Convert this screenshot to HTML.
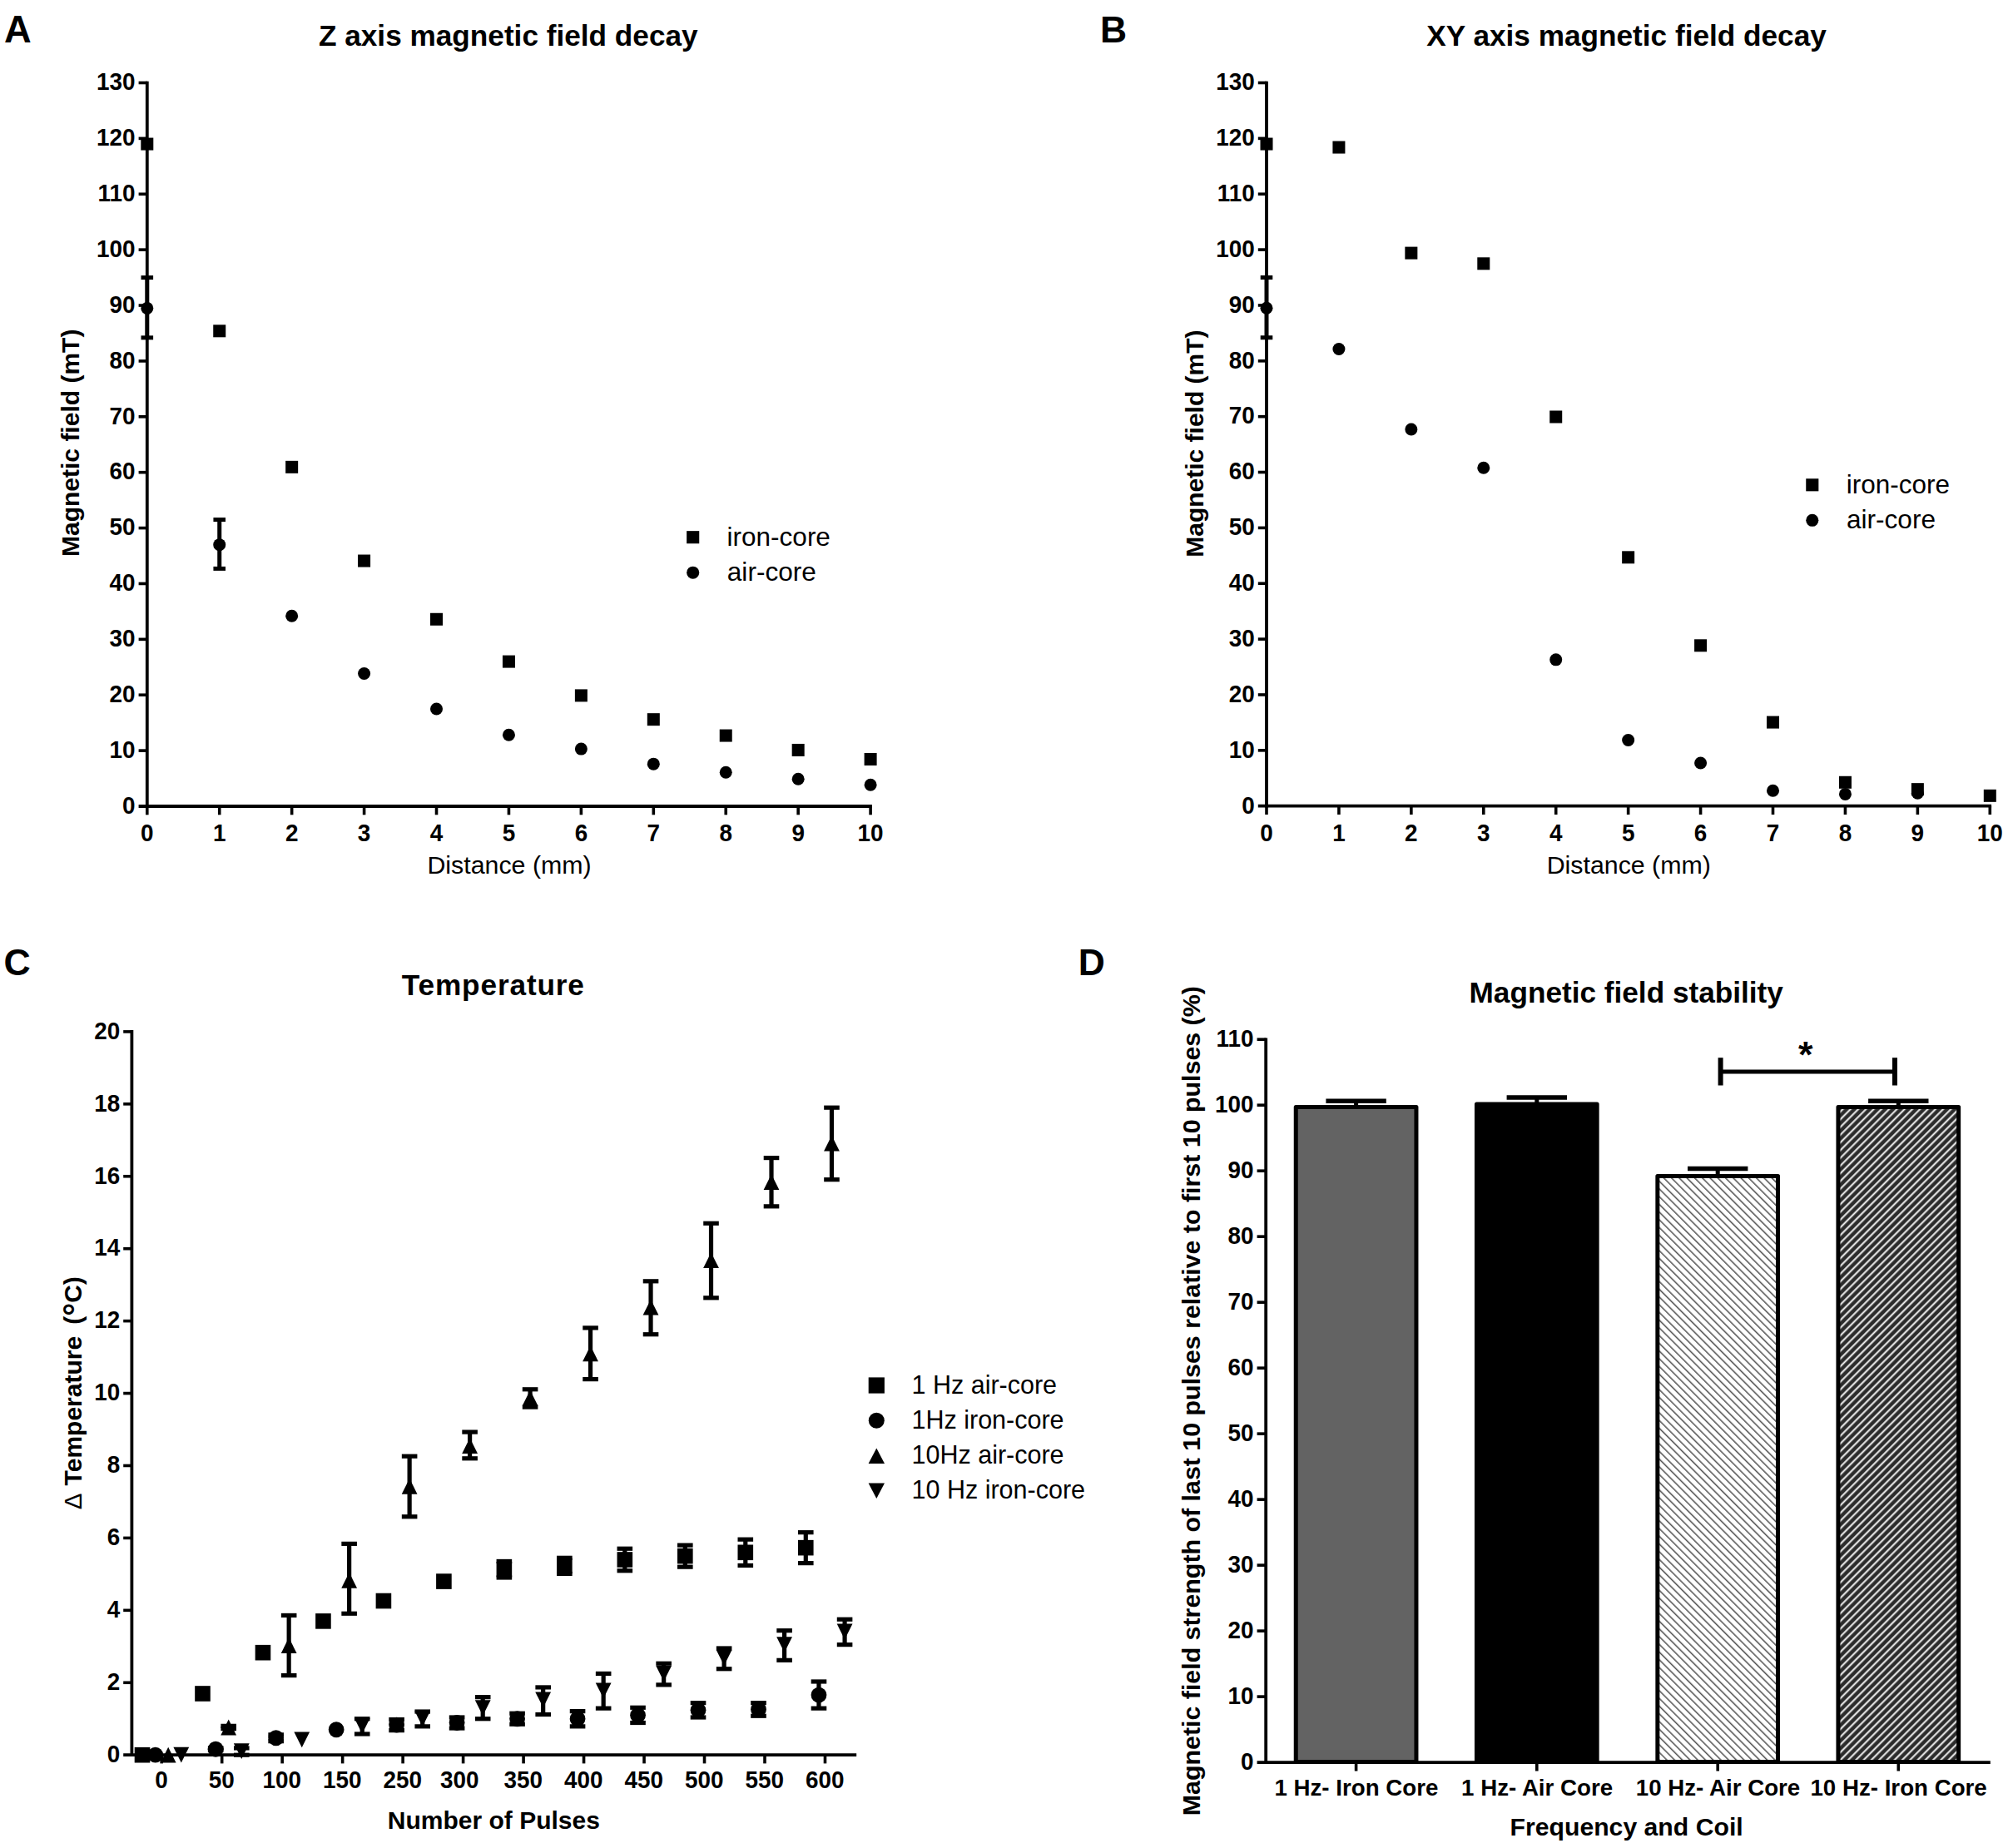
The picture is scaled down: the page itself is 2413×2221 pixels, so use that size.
<!DOCTYPE html>
<html lang="en"><head><meta charset="utf-8"><title>Figure</title>
<style>
html,body{margin:0;padding:0;background:#fff;}
body{width:2413px;height:2221px;overflow:hidden;}
svg{display:block;font-family:"Liberation Sans", sans-serif;fill:#000;}
</style></head><body>
<svg width="2413" height="2221" viewBox="0 0 2413 2221">
<rect width="2413" height="2221" fill="#fff"/>
<text x="5.00" y="50.80" font-size="45.3" font-weight="bold" text-anchor="start" >A</text>
<text x="610.80" y="54.80" font-size="35.2" font-weight="bold" text-anchor="middle" >Z axis magnetic field decay</text>
<line x1="176.80" y1="97.70" x2="176.80" y2="970.90" stroke="#000" stroke-width="3.8" />
<line x1="166.60" y1="969.00" x2="1047.90" y2="969.00" stroke="#000" stroke-width="3.8" />
<text transform="translate(162.47,977.80) scale(0.93,1)" font-size="30.0" font-weight="bold" text-anchor="end">0</text>
<line x1="166.60" y1="902.12" x2="176.80" y2="902.12" stroke="#000" stroke-width="3.6" />
<text transform="translate(162.47,910.92) scale(0.93,1)" font-size="30.0" font-weight="bold" text-anchor="end">10</text>
<line x1="166.60" y1="835.23" x2="176.80" y2="835.23" stroke="#000" stroke-width="3.6" />
<text transform="translate(162.47,844.03) scale(0.93,1)" font-size="30.0" font-weight="bold" text-anchor="end">20</text>
<line x1="166.60" y1="768.35" x2="176.80" y2="768.35" stroke="#000" stroke-width="3.6" />
<text transform="translate(162.47,777.15) scale(0.93,1)" font-size="30.0" font-weight="bold" text-anchor="end">30</text>
<line x1="166.60" y1="701.46" x2="176.80" y2="701.46" stroke="#000" stroke-width="3.6" />
<text transform="translate(162.47,710.26) scale(0.93,1)" font-size="30.0" font-weight="bold" text-anchor="end">40</text>
<line x1="166.60" y1="634.58" x2="176.80" y2="634.58" stroke="#000" stroke-width="3.6" />
<text transform="translate(162.47,643.38) scale(0.93,1)" font-size="30.0" font-weight="bold" text-anchor="end">50</text>
<line x1="166.60" y1="567.69" x2="176.80" y2="567.69" stroke="#000" stroke-width="3.6" />
<text transform="translate(162.47,576.49) scale(0.93,1)" font-size="30.0" font-weight="bold" text-anchor="end">60</text>
<line x1="166.60" y1="500.81" x2="176.80" y2="500.81" stroke="#000" stroke-width="3.6" />
<text transform="translate(162.47,509.61) scale(0.93,1)" font-size="30.0" font-weight="bold" text-anchor="end">70</text>
<line x1="166.60" y1="433.92" x2="176.80" y2="433.92" stroke="#000" stroke-width="3.6" />
<text transform="translate(162.47,442.72) scale(0.93,1)" font-size="30.0" font-weight="bold" text-anchor="end">80</text>
<line x1="166.60" y1="367.04" x2="176.80" y2="367.04" stroke="#000" stroke-width="3.6" />
<text transform="translate(162.47,375.84) scale(0.93,1)" font-size="30.0" font-weight="bold" text-anchor="end">90</text>
<line x1="166.60" y1="300.15" x2="176.80" y2="300.15" stroke="#000" stroke-width="3.6" />
<text transform="translate(162.47,308.95) scale(0.93,1)" font-size="30.0" font-weight="bold" text-anchor="end">100</text>
<line x1="166.60" y1="233.27" x2="176.80" y2="233.27" stroke="#000" stroke-width="3.6" />
<text transform="translate(162.47,242.07) scale(0.93,1)" font-size="30.0" font-weight="bold" text-anchor="end">110</text>
<line x1="166.60" y1="166.38" x2="176.80" y2="166.38" stroke="#000" stroke-width="3.6" />
<text transform="translate(162.47,175.18) scale(0.93,1)" font-size="30.0" font-weight="bold" text-anchor="end">120</text>
<line x1="166.60" y1="99.50" x2="176.80" y2="99.50" stroke="#000" stroke-width="3.6" />
<text transform="translate(162.47,108.30) scale(0.93,1)" font-size="30.0" font-weight="bold" text-anchor="end">130</text>
<line x1="176.80" y1="969.00" x2="176.80" y2="979.30" stroke="#000" stroke-width="3.6" />
<text transform="translate(176.80,1010.80) scale(0.93,1)" font-size="30.0" font-weight="bold" text-anchor="middle">0</text>
<line x1="263.73" y1="969.00" x2="263.73" y2="979.30" stroke="#000" stroke-width="3.6" />
<text transform="translate(263.73,1010.80) scale(0.93,1)" font-size="30.0" font-weight="bold" text-anchor="middle">1</text>
<line x1="350.66" y1="969.00" x2="350.66" y2="979.30" stroke="#000" stroke-width="3.6" />
<text transform="translate(350.66,1010.80) scale(0.93,1)" font-size="30.0" font-weight="bold" text-anchor="middle">2</text>
<line x1="437.59" y1="969.00" x2="437.59" y2="979.30" stroke="#000" stroke-width="3.6" />
<text transform="translate(437.59,1010.80) scale(0.93,1)" font-size="30.0" font-weight="bold" text-anchor="middle">3</text>
<line x1="524.52" y1="969.00" x2="524.52" y2="979.30" stroke="#000" stroke-width="3.6" />
<text transform="translate(524.52,1010.80) scale(0.93,1)" font-size="30.0" font-weight="bold" text-anchor="middle">4</text>
<line x1="611.45" y1="969.00" x2="611.45" y2="979.30" stroke="#000" stroke-width="3.6" />
<text transform="translate(611.45,1010.80) scale(0.93,1)" font-size="30.0" font-weight="bold" text-anchor="middle">5</text>
<line x1="698.38" y1="969.00" x2="698.38" y2="979.30" stroke="#000" stroke-width="3.6" />
<text transform="translate(698.38,1010.80) scale(0.93,1)" font-size="30.0" font-weight="bold" text-anchor="middle">6</text>
<line x1="785.31" y1="969.00" x2="785.31" y2="979.30" stroke="#000" stroke-width="3.6" />
<text transform="translate(785.31,1010.80) scale(0.93,1)" font-size="30.0" font-weight="bold" text-anchor="middle">7</text>
<line x1="872.24" y1="969.00" x2="872.24" y2="979.30" stroke="#000" stroke-width="3.6" />
<text transform="translate(872.24,1010.80) scale(0.93,1)" font-size="30.0" font-weight="bold" text-anchor="middle">8</text>
<line x1="959.17" y1="969.00" x2="959.17" y2="979.30" stroke="#000" stroke-width="3.6" />
<text transform="translate(959.17,1010.80) scale(0.93,1)" font-size="30.0" font-weight="bold" text-anchor="middle">9</text>
<line x1="1046.10" y1="969.00" x2="1046.10" y2="979.30" stroke="#000" stroke-width="3.6" />
<text transform="translate(1046.10,1010.80) scale(0.93,1)" font-size="30.0" font-weight="bold" text-anchor="middle">10</text>
<text x="612.05" y="1050.10" font-size="30.35" font-weight="normal" text-anchor="middle" >Distance (mm)</text>
<text x="0" y="0" transform="translate(95.00,532.30) rotate(-90)" font-size="30" font-weight="bold" text-anchor="middle" >Magnetic field (mT)</text>
<line x1="176.80" y1="333.60" x2="176.80" y2="405.83" stroke="#000" stroke-width="5.0" />
<line x1="169.50" y1="333.60" x2="184.10" y2="333.60" stroke="#000" stroke-width="5.0" />
<line x1="169.50" y1="405.83" x2="184.10" y2="405.83" stroke="#000" stroke-width="5.0" />
<line x1="263.73" y1="624.54" x2="263.73" y2="683.40" stroke="#000" stroke-width="5.0" />
<line x1="256.43" y1="624.54" x2="271.03" y2="624.54" stroke="#000" stroke-width="5.0" />
<line x1="256.43" y1="683.40" x2="271.03" y2="683.40" stroke="#000" stroke-width="5.0" />
<rect x="169.30" y="165.57" width="15.00" height="15.00"/>
<rect x="256.23" y="390.31" width="15.00" height="15.00"/>
<rect x="343.16" y="553.84" width="15.00" height="15.00"/>
<rect x="430.09" y="666.54" width="15.00" height="15.00"/>
<rect x="517.02" y="736.77" width="15.00" height="15.00"/>
<rect x="603.95" y="787.60" width="15.00" height="15.00"/>
<rect x="690.88" y="828.40" width="15.00" height="15.00"/>
<rect x="777.81" y="857.16" width="15.00" height="15.00"/>
<rect x="864.74" y="876.56" width="15.00" height="15.00"/>
<rect x="951.67" y="893.95" width="15.00" height="15.00"/>
<rect x="1038.60" y="904.98" width="15.00" height="15.00"/>
<circle cx="176.80" cy="370.38" r="7.50"/>
<circle cx="263.73" cy="654.64" r="7.50"/>
<circle cx="350.66" cy="740.25" r="7.50"/>
<circle cx="437.59" cy="809.48" r="7.50"/>
<circle cx="524.52" cy="851.95" r="7.50"/>
<circle cx="611.45" cy="883.19" r="7.50"/>
<circle cx="698.38" cy="900.11" r="7.50"/>
<circle cx="785.31" cy="918.17" r="7.50"/>
<circle cx="872.24" cy="928.20" r="7.50"/>
<circle cx="959.17" cy="936.23" r="7.50"/>
<circle cx="1046.10" cy="943.25" r="7.50"/>
<rect x="825.15" y="638.15" width="15.10" height="15.10"/>
<circle cx="832.70" cy="688.20" r="7.55"/>
<text x="873.60" y="655.90" font-size="31.5" font-weight="normal" text-anchor="start" >iron-core</text>
<text x="873.80" y="698.30" font-size="31.6" font-weight="normal" text-anchor="start" >air-core</text>
<text x="1321.90" y="50.80" font-size="44.5" font-weight="bold" text-anchor="start" >B</text>
<text x="1954.60" y="54.80" font-size="35.2" font-weight="bold" text-anchor="middle" >XY axis magnetic field decay</text>
<line x1="1522.00" y1="97.70" x2="1522.00" y2="970.60" stroke="#000" stroke-width="3.8" />
<line x1="1511.80" y1="968.70" x2="2393.10" y2="968.70" stroke="#000" stroke-width="3.8" />
<text transform="translate(1507.67,977.50) scale(0.93,1)" font-size="30.0" font-weight="bold" text-anchor="end">0</text>
<line x1="1511.80" y1="901.84" x2="1522.00" y2="901.84" stroke="#000" stroke-width="3.6" />
<text transform="translate(1507.67,910.64) scale(0.93,1)" font-size="30.0" font-weight="bold" text-anchor="end">10</text>
<line x1="1511.80" y1="834.98" x2="1522.00" y2="834.98" stroke="#000" stroke-width="3.6" />
<text transform="translate(1507.67,843.78) scale(0.93,1)" font-size="30.0" font-weight="bold" text-anchor="end">20</text>
<line x1="1511.80" y1="768.12" x2="1522.00" y2="768.12" stroke="#000" stroke-width="3.6" />
<text transform="translate(1507.67,776.92) scale(0.93,1)" font-size="30.0" font-weight="bold" text-anchor="end">30</text>
<line x1="1511.80" y1="701.25" x2="1522.00" y2="701.25" stroke="#000" stroke-width="3.6" />
<text transform="translate(1507.67,710.05) scale(0.93,1)" font-size="30.0" font-weight="bold" text-anchor="end">40</text>
<line x1="1511.80" y1="634.39" x2="1522.00" y2="634.39" stroke="#000" stroke-width="3.6" />
<text transform="translate(1507.67,643.19) scale(0.93,1)" font-size="30.0" font-weight="bold" text-anchor="end">50</text>
<line x1="1511.80" y1="567.53" x2="1522.00" y2="567.53" stroke="#000" stroke-width="3.6" />
<text transform="translate(1507.67,576.33) scale(0.93,1)" font-size="30.0" font-weight="bold" text-anchor="end">60</text>
<line x1="1511.80" y1="500.67" x2="1522.00" y2="500.67" stroke="#000" stroke-width="3.6" />
<text transform="translate(1507.67,509.47) scale(0.93,1)" font-size="30.0" font-weight="bold" text-anchor="end">70</text>
<line x1="1511.80" y1="433.81" x2="1522.00" y2="433.81" stroke="#000" stroke-width="3.6" />
<text transform="translate(1507.67,442.61) scale(0.93,1)" font-size="30.0" font-weight="bold" text-anchor="end">80</text>
<line x1="1511.80" y1="366.95" x2="1522.00" y2="366.95" stroke="#000" stroke-width="3.6" />
<text transform="translate(1507.67,375.75) scale(0.93,1)" font-size="30.0" font-weight="bold" text-anchor="end">90</text>
<line x1="1511.80" y1="300.08" x2="1522.00" y2="300.08" stroke="#000" stroke-width="3.6" />
<text transform="translate(1507.67,308.88) scale(0.93,1)" font-size="30.0" font-weight="bold" text-anchor="end">100</text>
<line x1="1511.80" y1="233.22" x2="1522.00" y2="233.22" stroke="#000" stroke-width="3.6" />
<text transform="translate(1507.67,242.02) scale(0.93,1)" font-size="30.0" font-weight="bold" text-anchor="end">110</text>
<line x1="1511.80" y1="166.36" x2="1522.00" y2="166.36" stroke="#000" stroke-width="3.6" />
<text transform="translate(1507.67,175.16) scale(0.93,1)" font-size="30.0" font-weight="bold" text-anchor="end">120</text>
<line x1="1511.80" y1="99.50" x2="1522.00" y2="99.50" stroke="#000" stroke-width="3.6" />
<text transform="translate(1507.67,108.30) scale(0.93,1)" font-size="30.0" font-weight="bold" text-anchor="end">130</text>
<line x1="1522.00" y1="968.70" x2="1522.00" y2="979.00" stroke="#000" stroke-width="3.6" />
<text transform="translate(1522.00,1010.80) scale(0.93,1)" font-size="30.0" font-weight="bold" text-anchor="middle">0</text>
<line x1="1608.93" y1="968.70" x2="1608.93" y2="979.00" stroke="#000" stroke-width="3.6" />
<text transform="translate(1608.93,1010.80) scale(0.93,1)" font-size="30.0" font-weight="bold" text-anchor="middle">1</text>
<line x1="1695.86" y1="968.70" x2="1695.86" y2="979.00" stroke="#000" stroke-width="3.6" />
<text transform="translate(1695.86,1010.80) scale(0.93,1)" font-size="30.0" font-weight="bold" text-anchor="middle">2</text>
<line x1="1782.79" y1="968.70" x2="1782.79" y2="979.00" stroke="#000" stroke-width="3.6" />
<text transform="translate(1782.79,1010.80) scale(0.93,1)" font-size="30.0" font-weight="bold" text-anchor="middle">3</text>
<line x1="1869.72" y1="968.70" x2="1869.72" y2="979.00" stroke="#000" stroke-width="3.6" />
<text transform="translate(1869.72,1010.80) scale(0.93,1)" font-size="30.0" font-weight="bold" text-anchor="middle">4</text>
<line x1="1956.65" y1="968.70" x2="1956.65" y2="979.00" stroke="#000" stroke-width="3.6" />
<text transform="translate(1956.65,1010.80) scale(0.93,1)" font-size="30.0" font-weight="bold" text-anchor="middle">5</text>
<line x1="2043.58" y1="968.70" x2="2043.58" y2="979.00" stroke="#000" stroke-width="3.6" />
<text transform="translate(2043.58,1010.80) scale(0.93,1)" font-size="30.0" font-weight="bold" text-anchor="middle">6</text>
<line x1="2130.51" y1="968.70" x2="2130.51" y2="979.00" stroke="#000" stroke-width="3.6" />
<text transform="translate(2130.51,1010.80) scale(0.93,1)" font-size="30.0" font-weight="bold" text-anchor="middle">7</text>
<line x1="2217.44" y1="968.70" x2="2217.44" y2="979.00" stroke="#000" stroke-width="3.6" />
<text transform="translate(2217.44,1010.80) scale(0.93,1)" font-size="30.0" font-weight="bold" text-anchor="middle">8</text>
<line x1="2304.37" y1="968.70" x2="2304.37" y2="979.00" stroke="#000" stroke-width="3.6" />
<text transform="translate(2304.37,1010.80) scale(0.93,1)" font-size="30.0" font-weight="bold" text-anchor="middle">9</text>
<line x1="2391.30" y1="968.70" x2="2391.30" y2="979.00" stroke="#000" stroke-width="3.6" />
<text transform="translate(2391.30,1010.80) scale(0.93,1)" font-size="30.0" font-weight="bold" text-anchor="middle">10</text>
<text x="1957.25" y="1050.10" font-size="30.35" font-weight="normal" text-anchor="middle" >Distance (mm)</text>
<text x="0" y="0" transform="translate(1446.30,533.10) rotate(-90)" font-size="30" font-weight="bold" text-anchor="middle" >Magnetic field (mT)</text>
<line x1="1522.00" y1="333.52" x2="1522.00" y2="405.73" stroke="#000" stroke-width="5.0" />
<line x1="1514.70" y1="333.52" x2="1529.30" y2="333.52" stroke="#000" stroke-width="5.0" />
<line x1="1514.70" y1="405.73" x2="1529.30" y2="405.73" stroke="#000" stroke-width="5.0" />
<rect x="1514.50" y="165.55" width="15.00" height="15.00"/>
<rect x="1601.43" y="169.56" width="15.00" height="15.00"/>
<rect x="1688.36" y="296.60" width="15.00" height="15.00"/>
<rect x="1775.29" y="309.30" width="15.00" height="15.00"/>
<rect x="1862.22" y="493.50" width="15.00" height="15.00"/>
<rect x="1949.15" y="662.33" width="15.00" height="15.00"/>
<rect x="2036.08" y="768.30" width="15.00" height="15.00"/>
<rect x="2123.01" y="860.57" width="15.00" height="15.00"/>
<rect x="2209.94" y="932.78" width="15.00" height="15.00"/>
<rect x="2296.87" y="941.14" width="15.00" height="15.00"/>
<rect x="2383.80" y="948.83" width="15.00" height="15.00"/>
<circle cx="1522.00" cy="370.29" r="7.50"/>
<circle cx="1608.93" cy="419.43" r="7.50"/>
<circle cx="1695.86" cy="516.05" r="7.50"/>
<circle cx="1782.79" cy="562.18" r="7.50"/>
<circle cx="1869.72" cy="792.85" r="7.50"/>
<circle cx="1956.65" cy="889.54" r="7.50"/>
<circle cx="2043.58" cy="917.02" r="7.50"/>
<circle cx="2130.51" cy="950.18" r="7.50"/>
<circle cx="2217.44" cy="954.39" r="7.50"/>
<circle cx="2304.37" cy="953.32" r="7.50"/>
<rect x="2170.25" y="575.25" width="15.10" height="15.10"/>
<circle cx="2177.80" cy="625.30" r="7.55"/>
<text x="2218.70" y="593.00" font-size="31.5" font-weight="normal" text-anchor="start" >iron-core</text>
<text x="2218.90" y="635.40" font-size="31.6" font-weight="normal" text-anchor="start" >air-core</text>
<text x="4.50" y="1171.80" font-size="44.6" font-weight="bold" text-anchor="start" >C</text>
<text x="482.80" y="1195.80" font-size="35.2" font-weight="bold" text-anchor="start" letter-spacing="0.86" >Temperature</text>
<line x1="158.40" y1="1238.10" x2="158.40" y2="2111.10" stroke="#000" stroke-width="3.8" />
<line x1="148.20" y1="2109.20" x2="1029.20" y2="2109.20" stroke="#000" stroke-width="3.8" />
<text transform="translate(144.17,2118.00) scale(0.93,1)" font-size="30.0" font-weight="bold" text-anchor="end">0</text>
<line x1="148.20" y1="2022.27" x2="158.40" y2="2022.27" stroke="#000" stroke-width="3.6" />
<text transform="translate(144.17,2031.07) scale(0.93,1)" font-size="30.0" font-weight="bold" text-anchor="end">2</text>
<line x1="148.20" y1="1935.34" x2="158.40" y2="1935.34" stroke="#000" stroke-width="3.6" />
<text transform="translate(144.17,1944.14) scale(0.93,1)" font-size="30.0" font-weight="bold" text-anchor="end">4</text>
<line x1="148.20" y1="1848.41" x2="158.40" y2="1848.41" stroke="#000" stroke-width="3.6" />
<text transform="translate(144.17,1857.21) scale(0.93,1)" font-size="30.0" font-weight="bold" text-anchor="end">6</text>
<line x1="148.20" y1="1761.48" x2="158.40" y2="1761.48" stroke="#000" stroke-width="3.6" />
<text transform="translate(144.17,1770.28) scale(0.93,1)" font-size="30.0" font-weight="bold" text-anchor="end">8</text>
<line x1="148.20" y1="1674.55" x2="158.40" y2="1674.55" stroke="#000" stroke-width="3.6" />
<text transform="translate(144.17,1683.35) scale(0.93,1)" font-size="30.0" font-weight="bold" text-anchor="end">10</text>
<line x1="148.20" y1="1587.62" x2="158.40" y2="1587.62" stroke="#000" stroke-width="3.6" />
<text transform="translate(144.17,1596.42) scale(0.93,1)" font-size="30.0" font-weight="bold" text-anchor="end">12</text>
<line x1="148.20" y1="1500.69" x2="158.40" y2="1500.69" stroke="#000" stroke-width="3.6" />
<text transform="translate(144.17,1509.49) scale(0.93,1)" font-size="30.0" font-weight="bold" text-anchor="end">14</text>
<line x1="148.20" y1="1413.76" x2="158.40" y2="1413.76" stroke="#000" stroke-width="3.6" />
<text transform="translate(144.17,1422.56) scale(0.93,1)" font-size="30.0" font-weight="bold" text-anchor="end">16</text>
<line x1="148.20" y1="1326.83" x2="158.40" y2="1326.83" stroke="#000" stroke-width="3.6" />
<text transform="translate(144.17,1335.63) scale(0.93,1)" font-size="30.0" font-weight="bold" text-anchor="end">18</text>
<line x1="148.20" y1="1239.90" x2="158.40" y2="1239.90" stroke="#000" stroke-width="3.6" />
<text transform="translate(144.17,1248.70) scale(0.93,1)" font-size="30.0" font-weight="bold" text-anchor="end">20</text>
<line x1="194.20" y1="2109.20" x2="194.20" y2="2119.40" stroke="#000" stroke-width="3.6" />
<text transform="translate(193.90,2149.40) scale(0.93,1)" font-size="30.0" font-weight="bold" text-anchor="middle">0</text>
<line x1="266.68" y1="2109.20" x2="266.68" y2="2119.40" stroke="#000" stroke-width="3.6" />
<text transform="translate(266.38,2149.40) scale(0.93,1)" font-size="30.0" font-weight="bold" text-anchor="middle">50</text>
<line x1="339.16" y1="2109.20" x2="339.16" y2="2119.40" stroke="#000" stroke-width="3.6" />
<text transform="translate(338.86,2149.40) scale(0.93,1)" font-size="30.0" font-weight="bold" text-anchor="middle">100</text>
<line x1="411.64" y1="2109.20" x2="411.64" y2="2119.40" stroke="#000" stroke-width="3.6" />
<text transform="translate(411.34,2149.40) scale(0.93,1)" font-size="30.0" font-weight="bold" text-anchor="middle">150</text>
<line x1="484.12" y1="2109.20" x2="484.12" y2="2119.40" stroke="#000" stroke-width="3.6" />
<text transform="translate(483.82,2149.40) scale(0.93,1)" font-size="30.0" font-weight="bold" text-anchor="middle">250</text>
<line x1="556.60" y1="2109.20" x2="556.60" y2="2119.40" stroke="#000" stroke-width="3.6" />
<text transform="translate(552.30,2149.40) scale(0.93,1)" font-size="30.0" font-weight="bold" text-anchor="middle">300</text>
<line x1="629.08" y1="2109.20" x2="629.08" y2="2119.40" stroke="#000" stroke-width="3.6" />
<text transform="translate(628.78,2149.40) scale(0.93,1)" font-size="30.0" font-weight="bold" text-anchor="middle">350</text>
<line x1="701.56" y1="2109.20" x2="701.56" y2="2119.40" stroke="#000" stroke-width="3.6" />
<text transform="translate(701.26,2149.40) scale(0.93,1)" font-size="30.0" font-weight="bold" text-anchor="middle">400</text>
<line x1="774.04" y1="2109.20" x2="774.04" y2="2119.40" stroke="#000" stroke-width="3.6" />
<text transform="translate(773.74,2149.40) scale(0.93,1)" font-size="30.0" font-weight="bold" text-anchor="middle">450</text>
<line x1="846.52" y1="2109.20" x2="846.52" y2="2119.40" stroke="#000" stroke-width="3.6" />
<text transform="translate(846.22,2149.40) scale(0.93,1)" font-size="30.0" font-weight="bold" text-anchor="middle">500</text>
<line x1="919.00" y1="2109.20" x2="919.00" y2="2119.40" stroke="#000" stroke-width="3.6" />
<text transform="translate(918.70,2149.40) scale(0.93,1)" font-size="30.0" font-weight="bold" text-anchor="middle">550</text>
<line x1="991.48" y1="2109.20" x2="991.48" y2="2119.40" stroke="#000" stroke-width="3.6" />
<text transform="translate(991.18,2149.40) scale(0.93,1)" font-size="30.0" font-weight="bold" text-anchor="middle">600</text>
<text x="593.40" y="2197.70" font-size="30" font-weight="bold" text-anchor="middle" >Number of Pulses</text>
<text transform="translate(97.5,1814.2) rotate(-90)" font-size="29.5" font-weight="normal" text-anchor="start">Δ</text>
<text transform="translate(97.5,1785.4) rotate(-90)" font-size="30" font-weight="bold" text-anchor="start">Temperature</text>
<text transform="translate(97.5,1591.8) rotate(-90)" font-size="30" font-weight="bold" text-anchor="start">(<tspan font-size="40" dy="7.2">°</tspan><tspan dy="-7.2">C)</tspan></text>
<rect x="161.70" y="2099.90" width="18.60" height="18.60"/>
<circle cx="186.70" cy="2109.20" r="9.40"/>
<polygon points="192.80,2118.60 211.60,2118.60 202.20,2099.80"/>
<polygon points="208.40,2099.80 227.20,2099.80 217.80,2118.60"/>
<rect x="234.18" y="2026.18" width="18.60" height="18.60"/>
<line x1="259.18" y1="2100.94" x2="259.18" y2="2103.55" stroke="#000" stroke-width="5.2" />
<line x1="249.88" y1="2100.94" x2="268.48" y2="2100.94" stroke="#000" stroke-width="5.2" />
<line x1="249.88" y1="2103.55" x2="268.48" y2="2103.55" stroke="#000" stroke-width="5.2" />
<circle cx="259.18" cy="2102.25" r="9.40"/>
<line x1="274.68" y1="2074.34" x2="274.68" y2="2077.64" stroke="#000" stroke-width="5.2" />
<line x1="265.38" y1="2074.34" x2="283.98" y2="2074.34" stroke="#000" stroke-width="5.2" />
<line x1="265.38" y1="2077.64" x2="283.98" y2="2077.64" stroke="#000" stroke-width="5.2" />
<polygon points="265.28,2085.39 284.08,2085.39 274.68,2066.59"/>
<line x1="290.28" y1="2100.94" x2="290.28" y2="2109.20" stroke="#000" stroke-width="5.2" />
<line x1="280.98" y1="2100.94" x2="299.58" y2="2100.94" stroke="#000" stroke-width="5.2" />
<line x1="280.98" y1="2109.20" x2="299.58" y2="2109.20" stroke="#000" stroke-width="5.2" />
<polygon points="280.88,2095.19 299.68,2095.19 290.28,2113.99"/>
<rect x="306.66" y="1976.89" width="18.60" height="18.60"/>
<line x1="331.66" y1="2084.86" x2="331.66" y2="2092.68" stroke="#000" stroke-width="5.2" />
<line x1="322.36" y1="2084.86" x2="340.96" y2="2084.86" stroke="#000" stroke-width="5.2" />
<line x1="322.36" y1="2092.68" x2="340.96" y2="2092.68" stroke="#000" stroke-width="5.2" />
<circle cx="331.66" cy="2088.77" r="9.40"/>
<line x1="347.16" y1="1941.43" x2="347.16" y2="2013.58" stroke="#000" stroke-width="5.2" />
<line x1="337.86" y1="1941.43" x2="356.46" y2="1941.43" stroke="#000" stroke-width="5.2" />
<line x1="337.86" y1="2013.58" x2="356.46" y2="2013.58" stroke="#000" stroke-width="5.2" />
<polygon points="337.76,1986.90 356.56,1986.90 347.16,1968.10"/>
<polygon points="353.36,2081.54 372.16,2081.54 362.76,2100.34"/>
<rect x="379.14" y="1939.08" width="18.60" height="18.60"/>
<circle cx="404.14" cy="2078.77" r="9.40"/>
<line x1="419.64" y1="1855.36" x2="419.64" y2="1939.25" stroke="#000" stroke-width="5.2" />
<line x1="410.34" y1="1855.36" x2="428.94" y2="1855.36" stroke="#000" stroke-width="5.2" />
<line x1="410.34" y1="1939.25" x2="428.94" y2="1939.25" stroke="#000" stroke-width="5.2" />
<polygon points="410.24,1908.66 429.04,1908.66 419.64,1889.86"/>
<line x1="435.24" y1="2065.73" x2="435.24" y2="2083.99" stroke="#000" stroke-width="5.2" />
<line x1="425.94" y1="2065.73" x2="444.54" y2="2065.73" stroke="#000" stroke-width="5.2" />
<line x1="425.94" y1="2083.99" x2="444.54" y2="2083.99" stroke="#000" stroke-width="5.2" />
<polygon points="425.84,2065.03 444.64,2065.03 435.24,2083.83"/>
<rect x="451.62" y="1914.74" width="18.60" height="18.60"/>
<line x1="476.62" y1="2066.60" x2="476.62" y2="2079.64" stroke="#000" stroke-width="5.2" />
<line x1="467.32" y1="2066.60" x2="485.92" y2="2066.60" stroke="#000" stroke-width="5.2" />
<line x1="467.32" y1="2079.64" x2="485.92" y2="2079.64" stroke="#000" stroke-width="5.2" />
<circle cx="476.62" cy="2073.12" r="9.40"/>
<line x1="492.12" y1="1750.18" x2="492.12" y2="1822.77" stroke="#000" stroke-width="5.2" />
<line x1="482.82" y1="1750.18" x2="501.42" y2="1750.18" stroke="#000" stroke-width="5.2" />
<line x1="482.82" y1="1822.77" x2="501.42" y2="1822.77" stroke="#000" stroke-width="5.2" />
<polygon points="482.72,1795.66 501.52,1795.66 492.12,1776.86"/>
<line x1="507.72" y1="2057.04" x2="507.72" y2="2074.86" stroke="#000" stroke-width="5.2" />
<line x1="498.42" y1="2057.04" x2="517.02" y2="2057.04" stroke="#000" stroke-width="5.2" />
<line x1="498.42" y1="2074.86" x2="517.02" y2="2074.86" stroke="#000" stroke-width="5.2" />
<polygon points="498.32,2056.33 517.12,2056.33 507.72,2075.13"/>
<rect x="524.10" y="1891.27" width="18.60" height="18.60"/>
<line x1="549.10" y1="2064.00" x2="549.10" y2="2077.04" stroke="#000" stroke-width="5.2" />
<line x1="539.80" y1="2064.00" x2="558.40" y2="2064.00" stroke="#000" stroke-width="5.2" />
<line x1="539.80" y1="2077.04" x2="558.40" y2="2077.04" stroke="#000" stroke-width="5.2" />
<circle cx="549.10" cy="2070.52" r="9.40"/>
<line x1="564.60" y1="1721.06" x2="564.60" y2="1752.79" stroke="#000" stroke-width="5.2" />
<line x1="555.30" y1="1721.06" x2="573.90" y2="1721.06" stroke="#000" stroke-width="5.2" />
<line x1="555.30" y1="1752.79" x2="573.90" y2="1752.79" stroke="#000" stroke-width="5.2" />
<polygon points="555.20,1746.97 574.00,1746.97 564.60,1728.17"/>
<line x1="580.20" y1="2039.66" x2="580.20" y2="2065.73" stroke="#000" stroke-width="5.2" />
<line x1="570.90" y1="2039.66" x2="589.50" y2="2039.66" stroke="#000" stroke-width="5.2" />
<line x1="570.90" y1="2065.73" x2="589.50" y2="2065.73" stroke="#000" stroke-width="5.2" />
<polygon points="570.80,2043.30 589.60,2043.30 580.20,2062.10"/>
<line x1="605.88" y1="1876.44" x2="605.88" y2="1896.00" stroke="#000" stroke-width="5.2" />
<line x1="596.58" y1="1876.44" x2="615.18" y2="1876.44" stroke="#000" stroke-width="5.2" />
<line x1="596.58" y1="1896.00" x2="615.18" y2="1896.00" stroke="#000" stroke-width="5.2" />
<rect x="596.58" y="1876.92" width="18.60" height="18.60"/>
<line x1="621.58" y1="2059.22" x2="621.58" y2="2072.25" stroke="#000" stroke-width="5.2" />
<line x1="612.28" y1="2059.22" x2="630.88" y2="2059.22" stroke="#000" stroke-width="5.2" />
<line x1="612.28" y1="2072.25" x2="630.88" y2="2072.25" stroke="#000" stroke-width="5.2" />
<circle cx="621.58" cy="2065.73" r="9.40"/>
<line x1="637.08" y1="1669.77" x2="637.08" y2="1691.07" stroke="#000" stroke-width="5.2" />
<line x1="627.78" y1="1669.77" x2="646.38" y2="1669.77" stroke="#000" stroke-width="5.2" />
<line x1="627.78" y1="1691.07" x2="646.38" y2="1691.07" stroke="#000" stroke-width="5.2" />
<polygon points="627.68,1689.60 646.48,1689.60 637.08,1670.80"/>
<line x1="652.68" y1="2027.92" x2="652.68" y2="2060.52" stroke="#000" stroke-width="5.2" />
<line x1="643.38" y1="2027.92" x2="661.98" y2="2027.92" stroke="#000" stroke-width="5.2" />
<line x1="643.38" y1="2060.52" x2="661.98" y2="2060.52" stroke="#000" stroke-width="5.2" />
<polygon points="643.28,2033.52 662.08,2033.52 652.68,2052.32"/>
<line x1="678.36" y1="1872.32" x2="678.36" y2="1891.44" stroke="#000" stroke-width="5.2" />
<line x1="669.06" y1="1872.32" x2="687.66" y2="1872.32" stroke="#000" stroke-width="5.2" />
<line x1="669.06" y1="1891.44" x2="687.66" y2="1891.44" stroke="#000" stroke-width="5.2" />
<rect x="669.06" y="1872.58" width="18.60" height="18.60"/>
<line x1="694.06" y1="2056.61" x2="694.06" y2="2074.86" stroke="#000" stroke-width="5.2" />
<line x1="684.76" y1="2056.61" x2="703.36" y2="2056.61" stroke="#000" stroke-width="5.2" />
<line x1="684.76" y1="2074.86" x2="703.36" y2="2074.86" stroke="#000" stroke-width="5.2" />
<circle cx="694.06" cy="2065.73" r="9.40"/>
<line x1="709.56" y1="1595.88" x2="709.56" y2="1657.60" stroke="#000" stroke-width="5.2" />
<line x1="700.26" y1="1595.88" x2="718.86" y2="1595.88" stroke="#000" stroke-width="5.2" />
<line x1="700.26" y1="1657.60" x2="718.86" y2="1657.60" stroke="#000" stroke-width="5.2" />
<polygon points="700.16,1636.14 718.96,1636.14 709.56,1617.34"/>
<line x1="725.16" y1="2011.40" x2="725.16" y2="2053.13" stroke="#000" stroke-width="5.2" />
<line x1="715.86" y1="2011.40" x2="734.46" y2="2011.40" stroke="#000" stroke-width="5.2" />
<line x1="715.86" y1="2053.13" x2="734.46" y2="2053.13" stroke="#000" stroke-width="5.2" />
<polygon points="715.76,2022.43 734.56,2022.43 725.16,2041.23"/>
<line x1="750.84" y1="1861.23" x2="750.84" y2="1887.75" stroke="#000" stroke-width="5.2" />
<line x1="741.54" y1="1861.23" x2="760.14" y2="1861.23" stroke="#000" stroke-width="5.2" />
<line x1="741.54" y1="1887.75" x2="760.14" y2="1887.75" stroke="#000" stroke-width="5.2" />
<rect x="741.54" y="1865.19" width="18.60" height="18.60"/>
<line x1="766.54" y1="2052.26" x2="766.54" y2="2070.52" stroke="#000" stroke-width="5.2" />
<line x1="757.24" y1="2052.26" x2="775.84" y2="2052.26" stroke="#000" stroke-width="5.2" />
<line x1="757.24" y1="2070.52" x2="775.84" y2="2070.52" stroke="#000" stroke-width="5.2" />
<circle cx="766.54" cy="2061.39" r="9.40"/>
<line x1="782.04" y1="1539.81" x2="782.04" y2="1603.70" stroke="#000" stroke-width="5.2" />
<line x1="772.74" y1="1539.81" x2="791.34" y2="1539.81" stroke="#000" stroke-width="5.2" />
<line x1="772.74" y1="1603.70" x2="791.34" y2="1603.70" stroke="#000" stroke-width="5.2" />
<polygon points="772.64,1580.50 791.44,1580.50 782.04,1561.70"/>
<line x1="797.64" y1="1999.23" x2="797.64" y2="2024.88" stroke="#000" stroke-width="5.2" />
<line x1="788.34" y1="1999.23" x2="806.94" y2="1999.23" stroke="#000" stroke-width="5.2" />
<line x1="788.34" y1="2024.88" x2="806.94" y2="2024.88" stroke="#000" stroke-width="5.2" />
<polygon points="788.24,2002.00 807.04,2002.00 797.64,2020.80"/>
<line x1="823.32" y1="1857.10" x2="823.32" y2="1883.18" stroke="#000" stroke-width="5.2" />
<line x1="814.02" y1="1857.10" x2="832.62" y2="1857.10" stroke="#000" stroke-width="5.2" />
<line x1="814.02" y1="1883.18" x2="832.62" y2="1883.18" stroke="#000" stroke-width="5.2" />
<rect x="814.02" y="1860.84" width="18.60" height="18.60"/>
<line x1="839.02" y1="2046.61" x2="839.02" y2="2064.00" stroke="#000" stroke-width="5.2" />
<line x1="829.72" y1="2046.61" x2="848.32" y2="2046.61" stroke="#000" stroke-width="5.2" />
<line x1="829.72" y1="2064.00" x2="848.32" y2="2064.00" stroke="#000" stroke-width="5.2" />
<circle cx="839.02" cy="2055.30" r="9.40"/>
<line x1="854.52" y1="1470.26" x2="854.52" y2="1559.80" stroke="#000" stroke-width="5.2" />
<line x1="845.22" y1="1470.26" x2="863.82" y2="1470.26" stroke="#000" stroke-width="5.2" />
<line x1="845.22" y1="1559.80" x2="863.82" y2="1559.80" stroke="#000" stroke-width="5.2" />
<polygon points="845.12,1524.00 863.92,1524.00 854.52,1505.20"/>
<line x1="870.12" y1="1980.98" x2="870.12" y2="2005.75" stroke="#000" stroke-width="5.2" />
<line x1="860.82" y1="1980.98" x2="879.42" y2="1980.98" stroke="#000" stroke-width="5.2" />
<line x1="860.82" y1="2005.75" x2="879.42" y2="2005.75" stroke="#000" stroke-width="5.2" />
<polygon points="860.72,1982.88 879.52,1982.88 870.12,2001.68"/>
<line x1="895.80" y1="1850.15" x2="895.80" y2="1881.44" stroke="#000" stroke-width="5.2" />
<line x1="886.50" y1="1850.15" x2="905.10" y2="1850.15" stroke="#000" stroke-width="5.2" />
<line x1="886.50" y1="1881.44" x2="905.10" y2="1881.44" stroke="#000" stroke-width="5.2" />
<rect x="886.50" y="1856.50" width="18.60" height="18.60"/>
<line x1="911.50" y1="2046.61" x2="911.50" y2="2062.26" stroke="#000" stroke-width="5.2" />
<line x1="902.20" y1="2046.61" x2="920.80" y2="2046.61" stroke="#000" stroke-width="5.2" />
<line x1="902.20" y1="2062.26" x2="920.80" y2="2062.26" stroke="#000" stroke-width="5.2" />
<circle cx="911.50" cy="2054.43" r="9.40"/>
<line x1="927.00" y1="1391.59" x2="927.00" y2="1449.84" stroke="#000" stroke-width="5.2" />
<line x1="917.70" y1="1391.59" x2="936.30" y2="1391.59" stroke="#000" stroke-width="5.2" />
<line x1="917.70" y1="1449.84" x2="936.30" y2="1449.84" stroke="#000" stroke-width="5.2" />
<polygon points="917.60,1430.11 936.40,1430.11 927.00,1411.31"/>
<line x1="942.60" y1="1959.68" x2="942.60" y2="1995.32" stroke="#000" stroke-width="5.2" />
<line x1="933.30" y1="1959.68" x2="951.90" y2="1959.68" stroke="#000" stroke-width="5.2" />
<line x1="933.30" y1="1995.32" x2="951.90" y2="1995.32" stroke="#000" stroke-width="5.2" />
<polygon points="933.20,1967.23 952.00,1967.23 942.60,1986.03"/>
<line x1="968.28" y1="1841.67" x2="968.28" y2="1878.62" stroke="#000" stroke-width="5.2" />
<line x1="958.98" y1="1841.67" x2="977.58" y2="1841.67" stroke="#000" stroke-width="5.2" />
<line x1="958.98" y1="1878.62" x2="977.58" y2="1878.62" stroke="#000" stroke-width="5.2" />
<rect x="958.98" y="1850.85" width="18.60" height="18.60"/>
<line x1="983.98" y1="2020.97" x2="983.98" y2="2053.13" stroke="#000" stroke-width="5.2" />
<line x1="974.68" y1="2020.97" x2="993.28" y2="2020.97" stroke="#000" stroke-width="5.2" />
<line x1="974.68" y1="2053.13" x2="993.28" y2="2053.13" stroke="#000" stroke-width="5.2" />
<circle cx="983.98" cy="2037.05" r="9.40"/>
<line x1="999.48" y1="1331.18" x2="999.48" y2="1417.67" stroke="#000" stroke-width="5.2" />
<line x1="990.18" y1="1331.18" x2="1008.78" y2="1331.18" stroke="#000" stroke-width="5.2" />
<line x1="990.18" y1="1417.67" x2="1008.78" y2="1417.67" stroke="#000" stroke-width="5.2" />
<polygon points="990.08,1383.61 1008.88,1383.61 999.48,1364.81"/>
<line x1="1015.08" y1="1946.21" x2="1015.08" y2="1976.63" stroke="#000" stroke-width="5.2" />
<line x1="1005.78" y1="1946.21" x2="1024.38" y2="1946.21" stroke="#000" stroke-width="5.2" />
<line x1="1005.78" y1="1976.63" x2="1024.38" y2="1976.63" stroke="#000" stroke-width="5.2" />
<polygon points="1005.68,1951.58 1024.48,1951.58 1015.08,1970.38"/>
<rect x="1043.70" y="1655.40" width="19.20" height="19.20"/>
<circle cx="1053.30" cy="1707.30" r="9.50"/>
<polygon points="1043.60,1758.90 1063.00,1758.90 1053.30,1740.50"/>
<polygon points="1043.60,1782.50 1063.00,1782.50 1053.30,1801.10"/>
<text x="1095.50" y="1674.50" font-size="30.5" font-weight="normal" text-anchor="start" >1 Hz air-core</text>
<text x="1095.50" y="1716.70" font-size="30.5" font-weight="normal" text-anchor="start" >1Hz iron-core</text>
<text x="1095.50" y="1758.90" font-size="30.5" font-weight="normal" text-anchor="start" >10Hz air-core</text>
<text x="1095.50" y="1801.10" font-size="30.5" font-weight="normal" text-anchor="start" >10 Hz iron-core</text>
<text x="1295.80" y="1171.50" font-size="44.4" font-weight="bold" text-anchor="start" >D</text>
<text x="1954.20" y="1205.30" font-size="35.2" font-weight="bold" text-anchor="middle" >Magnetic field stability</text>
<defs><pattern id="h3" patternUnits="userSpaceOnUse" width="6.56" height="6.56" patternTransform="translate(1994.2,1415.7) rotate(-45)"><rect width="6.56" height="6.56" fill="#fff"/><line x1="3.6" y1="-1" x2="3.6" y2="8" stroke="#444" stroke-width="1.4"/></pattern><pattern id="h4" patternUnits="userSpaceOnUse" width="6.56" height="6.56" patternTransform="translate(2211.3,1333.2) rotate(45)"><rect width="6.56" height="6.56" fill="#2c2c2c"/><line x1="2.2" y1="-1" x2="2.2" y2="8" stroke="#f4f4f4" stroke-width="2.0"/></pattern></defs>
<line x1="1629.60" y1="1323.14" x2="1629.60" y2="1330.57" stroke="#000" stroke-width="5.0" />
<line x1="1593.40" y1="1323.14" x2="1665.80" y2="1323.14" stroke="#000" stroke-width="5.5" />
<rect x="1557.25" y="1330.57" width="144.70" height="786.93" fill="#636363" stroke="#000" stroke-width="5" stroke-linejoin="round"/>
<line x1="1846.80" y1="1318.88" x2="1846.80" y2="1327.02" stroke="#000" stroke-width="5.0" />
<line x1="1810.60" y1="1318.88" x2="1883.00" y2="1318.88" stroke="#000" stroke-width="5.5" />
<rect x="1774.45" y="1327.02" width="144.70" height="790.48" fill="#000" stroke="#000" stroke-width="5" stroke-linejoin="round"/>
<line x1="2064.20" y1="1404.58" x2="2064.20" y2="1413.51" stroke="#000" stroke-width="5.0" />
<line x1="2028.00" y1="1404.58" x2="2100.40" y2="1404.58" stroke="#000" stroke-width="5.5" />
<rect x="1991.85" y="1413.51" width="144.70" height="703.99" fill="url(#h3)" stroke="#000" stroke-width="5" stroke-linejoin="round"/>
<line x1="2281.30" y1="1323.14" x2="2281.30" y2="1330.57" stroke="#000" stroke-width="5.0" />
<line x1="2245.10" y1="1323.14" x2="2317.50" y2="1323.14" stroke="#000" stroke-width="5.5" />
<rect x="2208.95" y="1330.57" width="144.70" height="786.93" fill="url(#h4)" stroke="#000" stroke-width="5" stroke-linejoin="round"/>
<line x1="1521.20" y1="1247.41" x2="1521.20" y2="2120.00" stroke="#000" stroke-width="3.8" />
<line x1="1510.60" y1="2118.10" x2="2391.80" y2="2118.10" stroke="#000" stroke-width="3.8" />
<text transform="translate(1506.47,2127.10) scale(0.93,1)" font-size="30.0" font-weight="bold" text-anchor="end">0</text>
<line x1="1510.60" y1="2039.11" x2="1521.20" y2="2039.11" stroke="#000" stroke-width="3.6" />
<text transform="translate(1506.47,2048.11) scale(0.93,1)" font-size="30.0" font-weight="bold" text-anchor="end">10</text>
<line x1="1510.60" y1="1960.12" x2="1521.20" y2="1960.12" stroke="#000" stroke-width="3.6" />
<text transform="translate(1506.47,1969.12) scale(0.93,1)" font-size="30.0" font-weight="bold" text-anchor="end">20</text>
<line x1="1510.60" y1="1881.13" x2="1521.20" y2="1881.13" stroke="#000" stroke-width="3.6" />
<text transform="translate(1506.47,1890.13) scale(0.93,1)" font-size="30.0" font-weight="bold" text-anchor="end">30</text>
<line x1="1510.60" y1="1802.14" x2="1521.20" y2="1802.14" stroke="#000" stroke-width="3.6" />
<text transform="translate(1506.47,1811.14) scale(0.93,1)" font-size="30.0" font-weight="bold" text-anchor="end">40</text>
<line x1="1510.60" y1="1723.15" x2="1521.20" y2="1723.15" stroke="#000" stroke-width="3.6" />
<text transform="translate(1506.47,1732.15) scale(0.93,1)" font-size="30.0" font-weight="bold" text-anchor="end">50</text>
<line x1="1510.60" y1="1644.16" x2="1521.20" y2="1644.16" stroke="#000" stroke-width="3.6" />
<text transform="translate(1506.47,1653.16) scale(0.93,1)" font-size="30.0" font-weight="bold" text-anchor="end">60</text>
<line x1="1510.60" y1="1565.17" x2="1521.20" y2="1565.17" stroke="#000" stroke-width="3.6" />
<text transform="translate(1506.47,1574.17) scale(0.93,1)" font-size="30.0" font-weight="bold" text-anchor="end">70</text>
<line x1="1510.60" y1="1486.18" x2="1521.20" y2="1486.18" stroke="#000" stroke-width="3.6" />
<text transform="translate(1506.47,1495.18) scale(0.93,1)" font-size="30.0" font-weight="bold" text-anchor="end">80</text>
<line x1="1510.60" y1="1407.19" x2="1521.20" y2="1407.19" stroke="#000" stroke-width="3.6" />
<text transform="translate(1506.47,1416.19) scale(0.93,1)" font-size="30.0" font-weight="bold" text-anchor="end">90</text>
<line x1="1510.60" y1="1328.20" x2="1521.20" y2="1328.20" stroke="#000" stroke-width="3.6" />
<text transform="translate(1506.47,1337.20) scale(0.93,1)" font-size="30.0" font-weight="bold" text-anchor="end">100</text>
<line x1="1510.60" y1="1249.21" x2="1521.20" y2="1249.21" stroke="#000" stroke-width="3.6" />
<text transform="translate(1506.47,1258.21) scale(0.93,1)" font-size="30.0" font-weight="bold" text-anchor="end">110</text>
<line x1="1629.60" y1="2118.10" x2="1629.60" y2="2128.50" stroke="#000" stroke-width="3.6" />
<text x="1629.90" y="2157.90" font-size="27.7" font-weight="bold" text-anchor="middle" >1 Hz- Iron Core</text>
<line x1="1846.80" y1="2118.10" x2="1846.80" y2="2128.50" stroke="#000" stroke-width="3.6" />
<text x="1847.10" y="2157.90" font-size="27.7" font-weight="bold" text-anchor="middle" >1 Hz- Air Core</text>
<line x1="2064.20" y1="2118.10" x2="2064.20" y2="2128.50" stroke="#000" stroke-width="3.6" />
<text x="2064.50" y="2157.90" font-size="27.7" font-weight="bold" text-anchor="middle" >10 Hz- Air Core</text>
<line x1="2281.30" y1="2118.10" x2="2281.30" y2="2128.50" stroke="#000" stroke-width="3.6" />
<text x="2281.60" y="2157.90" font-size="27.7" font-weight="bold" text-anchor="middle" >10 Hz- Iron Core</text>
<text x="1954.60" y="2206.00" font-size="30.2" font-weight="bold" text-anchor="middle" >Frequency and Coil</text>
<text x="0" y="0" transform="translate(1441.50,1683.70) rotate(-90)" font-size="30.37" font-weight="bold" text-anchor="middle" >Magnetic field strength of last 10 pulses relative to first 10 pulses (%)</text>
<line x1="2067.60" y1="1288.00" x2="2277.00" y2="1288.00" stroke="#000" stroke-width="5.2" />
<line x1="2067.60" y1="1271.20" x2="2067.60" y2="1304.50" stroke="#000" stroke-width="6.0" />
<line x1="2277.00" y1="1271.20" x2="2277.00" y2="1304.50" stroke="#000" stroke-width="6.0" />
<text x="2169.80" y="1282.60" font-size="45" font-weight="bold" text-anchor="middle" >*</text>
</svg></body></html>
